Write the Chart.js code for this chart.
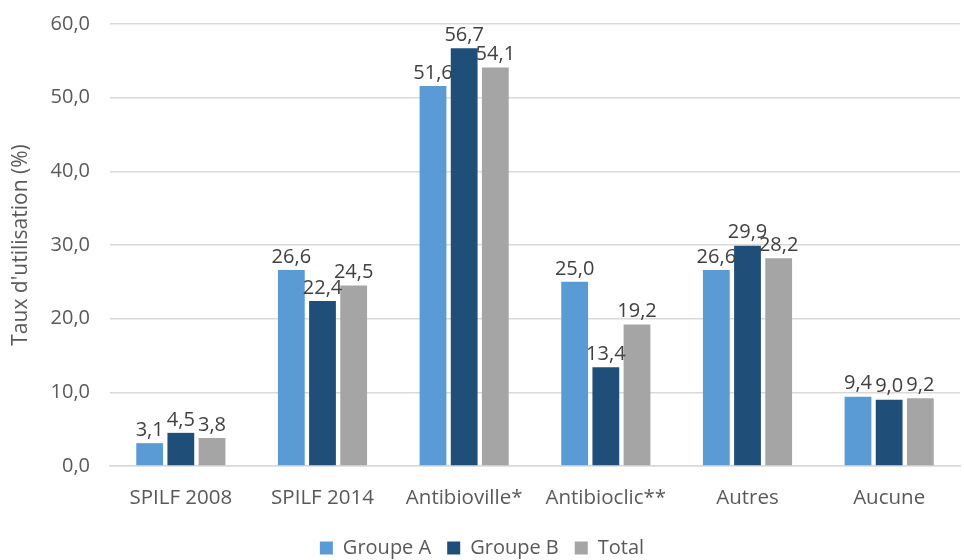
<!DOCTYPE html>
<html>
<head>
<meta charset="utf-8">
<script src="https://cdn.jsdelivr.net/npm/chart.js@4"></script>
<style>
  body { margin: 0; background: #fff; }
  #wrap { width: 964px; height: 560px; }
</style>
</head>
<body>
<div id="wrap"><canvas id="myChart"></canvas></div>
<script>
const categories = ["SPILF 2008", "SPILF 2014", "Antibioville*", "Antibioclic**", "Autres", "Aucune"];
const groupeA = [3.1, 26.6, 51.6, 25.0, 26.6, 9.4];
const groupeB = [4.5, 22.4, 56.7, 13.4, 29.9, 9.0];
const total = [3.8, 24.5, 54.1, 19.2, 28.2, 9.2];
const yTicks = [0, 10, 20, 30, 40, 50, 60];

const fontFamily = "'Open Sans', 'Liberation Sans', sans-serif";
const textColor = "#595959";

function fmt(v) {
    return v.toFixed(1).replace(".", ",");
}

// draw the value above each bar
const valueLabels = {
    id: "valueLabels",
    afterDatasetsDraw(chart) {
        const ctx = chart.ctx;
        ctx.save();
        ctx.font = "20px " + fontFamily;
        ctx.fillStyle = "#404040";
        ctx.textAlign = "center";
        ctx.textBaseline = "bottom";
        chart.data.datasets.forEach((ds, i) => {
            chart.getDatasetMeta(i).data.forEach((bar, j) => {
                ctx.fillText(fmt(ds.data[j]), bar.x, bar.y - 3);
            });
        });
        ctx.restore();
    },
};

const ctx = document.getElementById("myChart").getContext("2d");
new Chart(ctx, {
    type: "bar",
    data: {
        labels: categories,
        datasets: [
            { label: "Groupe A", data: groupeA, backgroundColor: "#5B9BD5" },
            { label: "Groupe B", data: groupeB, backgroundColor: "#1F4E79" },
            { label: "Total", data: total, backgroundColor: "#A5A5A5" },
        ],
    },
    options: {
        responsive: true,
        maintainAspectRatio: false,
        animation: false,
        layout: { padding: { top: 24, right: 4, left: 4, bottom: -8 } },
        datasets: {
            bar: { categoryPercentage: 0.66, barPercentage: 0.86 },
        },
        plugins: {
            legend: {
                display: true,
                position: "bottom",
                labels: {
                    boxWidth: 13,
                    boxHeight: 13,
                    padding: 16,
                    color: textColor,
                    font: { family: fontFamily, size: 20 },
                },
            },
            tooltip: { enabled: false },
        },
        scales: {
            x: {
                afterFit(scale) {
                    scale.height = 56;
                },
                grid: { display: false },
                border: { color: "#D9D9D9", width: 1.5 },
                ticks: {
                    color: textColor,
                    font: { family: fontFamily, size: 20.5 },
                    padding: 12,
                    maxRotation: 0,
                },
            },
            y: {
                min: 0,
                max: 60,
                afterBuildTicks(scale) {
                    scale.ticks = yTicks.map((v) => ({ value: v }));
                },
                afterFit(scale) {
                    scale.width = 106;
                    scale.paddingTop = 0;
                    scale.paddingBottom = 0;
                },
                grid: { color: "#D9D9D9", lineWidth: 1.5, drawTicks: false },
                border: { display: false },
                ticks: {
                    color: textColor,
                    font: { family: fontFamily, size: 20 },
                    padding: 20,
                    callback: (v) => fmt(v),
                },
                title: {
                    display: true,
                    text: "Taux d'utilisation (%)",
                    color: textColor,
                    font: { family: fontFamily, size: 21 },
                },
            },
        },
    },
    plugins: [valueLabels],
});
</script>
</body>
</html>
